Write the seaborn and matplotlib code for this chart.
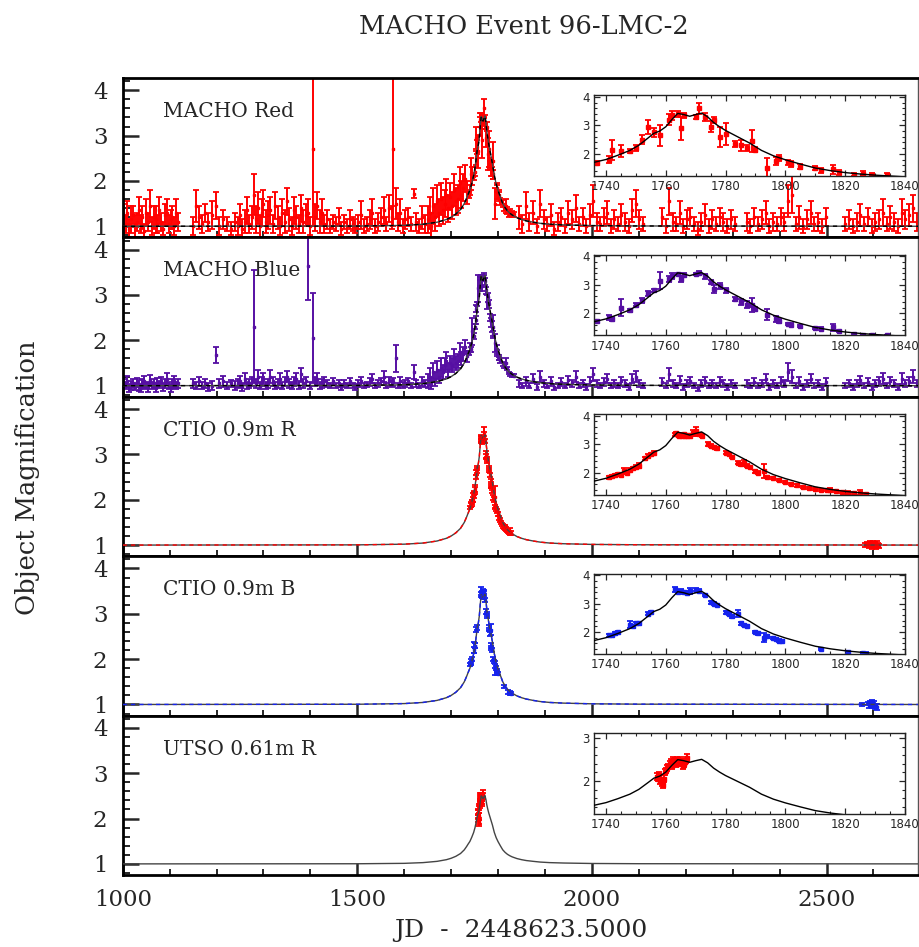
import matplotlib
matplotlib.use('Agg')
import matplotlib.pyplot as plt
from matplotlib.ticker import MultipleLocator
import seaborn as sns

# ---- data ----
macho_jd = [
    1002, 1006, 1010, 1014, 1018, 1022, 1026, 1030, 1034, 1038, 1042, 1046, 1050, 1054, 1058,
    1062, 1066, 1070, 1074, 1078, 1082, 1086, 1090, 1094, 1098, 1102, 1106, 1110, 1114, 1118,
    1150, 1156, 1162, 1168, 1175, 1182, 1190, 1198, 1206, 1214, 1222, 1230,
    1240, 1245, 1250, 1255, 1260, 1265, 1270, 1275, 1279, 1284, 1288, 1292, 1296, 1300, 1305,
    1310, 1315, 1320, 1325, 1330, 1335, 1340, 1345, 1350, 1355, 1360, 1365, 1370, 1375, 1380,
    1385, 1390, 1395, 1400, 1406, 1410, 1415, 1420, 1425, 1430,
    1436, 1442, 1448, 1454, 1460, 1466, 1472, 1478, 1484, 1490, 1496, 1502, 1508, 1514, 1520,
    1526, 1532, 1538, 1544, 1550, 1556, 1562, 1568, 1573, 1577, 1582, 1587, 1592, 1597, 1602,
    1608, 1614, 1620, 1626, 1632, 1638, 1644,
    1650, 1654, 1658, 1662, 1666, 1670, 1674, 1678, 1682, 1686, 1690, 1694, 1698, 1702, 1706,
    1710, 1714, 1718, 1722, 1726, 1730, 1733,
    1737, 1741, 1742, 1745, 1748, 1750, 1752, 1754, 1756, 1758, 1761, 1762, 1764, 1765, 1766,
    1770, 1771, 1773, 1775, 1776, 1778, 1780, 1783, 1785, 1787, 1789, 1790, 1794, 1797, 1798,
    1801, 1802, 1805, 1810, 1812, 1816, 1818, 1823, 1826, 1829, 1834,
    1845, 1852, 1860, 1867, 1875, 1882, 1890, 1897, 1905, 1912, 1920, 1928, 1935, 1943, 1950,
    1958, 1966, 1973, 1980, 1988, 1995, 2003, 2010, 2018, 2025, 2033, 2040, 2048, 2056, 2063,
    2070, 2078, 2086, 2093, 2100, 2108,
    2150, 2157, 2165, 2172, 2180, 2188, 2195, 2203, 2210, 2218, 2226, 2233, 2241, 2249, 2256,
    2264, 2272, 2280, 2288, 2296, 2304,
    2330, 2338, 2346, 2354, 2362, 2370, 2378, 2386, 2394, 2402, 2410, 2418, 2426, 2434, 2442,
    2450, 2458, 2466, 2474, 2482, 2490, 2498,
    2540, 2548, 2556, 2564, 2572, 2580, 2588, 2596, 2604, 2612, 2620, 2628, 2636, 2644, 2652,
    2660, 2668, 2676, 2684, 2692,
]

red_mag = [
    1.2, 1.05, 1.3, 0.95, 1.15, 1.25, 1.0, 1.1, 1.35, 1.05, 1.2, 0.9, 1.3, 1.1, 1.45,
    1.0, 1.2, 1.15, 1.05, 1.35, 1.1, 0.95, 1.25, 1.3, 1.05, 1.15, 1.2, 1.0, 1.3, 1.1,
    1.0, 1.45, 1.2, 1.05, 1.3, 1.1, 1.25, 1.45, 1.0, 1.15, 1.05, 0.95,
    1.1, 1.0, 1.25, 0.95, 1.1, 1.35, 1.05, 1.2, 1.7, 1.15, 1.4, 1.0, 1.3, 1.5, 1.1,
    1.25, 1.35, 1.05, 1.45, 1.2, 1.0, 1.3, 1.1, 1.55, 1.15, 1.0, 1.35, 1.2, 1.05, 1.4,
    1.1, 1.25, 1.3, 1.0, 2.7, 1.2, 1.45, 1.1, 1.3, 1.05,
    1.15, 1.0, 1.1, 1.05, 1.2, 0.95, 1.1, 1.0, 1.15, 1.05, 1.0, 1.1, 1.25, 1.0, 1.05,
    1.15, 1.3, 1.0, 1.1, 1.2, 1.35, 1.05, 1.4, 1.2, 2.7, 1.5, 1.1, 1.3, 1.0, 1.15,
    1.2, 1.05, 1.72, 1.1, 1.0, 1.2, 1.05,
    1.15, 1.3, 1.0, 1.45, 1.2, 1.55, 1.3, 1.6, 1.35, 1.5, 1.7, 1.4, 1.65, 1.45, 1.8,
    1.55, 1.6, 1.95, 1.7, 1.85, 2.05, 1.75,
    1.68, 1.8, 2.15, 2.1, 2.1, 2.2, 2.5, 2.95, 2.75, 2.65, 3.2, 3.35, 3.4, 2.9, 3.35,
    3.3, 3.6, 3.3, 2.95, 3.2, 2.6, 2.7, 2.35, 2.3, 2.2, 2.45, 2.15, 1.5, 1.75, 1.85,
    1.7, 1.65, 1.55, 1.5, 1.42, 1.45, 1.35, 1.27, 1.3, 1.27, 1.26,
    1.2, 1.05, 1.45, 1.1, 1.3, 1.0, 1.5, 1.15, 1.05, 1.25, 0.95, 1.1, 1.2, 1.0, 1.3,
    1.15, 1.4, 1.05, 1.2, 1.0, 1.25, 1.55, 1.1, 1.05, 1.2, 1.3, 1.0, 1.15, 1.05, 1.25,
    1.1, 1.0, 1.35, 1.5, 1.15, 1.05,
    1.2, 1.0, 1.55, 1.1, 1.05, 1.3, 1.0, 1.15, 1.2, 1.05, 0.95, 1.1, 1.25, 1.0, 1.15,
    1.05, 1.2, 1.1, 1.0, 1.15, 1.05,
    1.1, 1.0, 1.2, 1.05, 1.15, 1.3, 1.0, 1.1, 1.05, 1.2, 1.1, 1.55, 1.7, 1.05, 1.2,
    1.0, 1.15, 1.3, 1.05, 1.1, 1.0, 1.2,
    1.05, 1.15, 1.0, 1.1, 1.25, 1.05, 1.2, 1.0, 1.1, 1.15, 1.3, 1.05, 1.2, 1.1, 1.0,
    1.3, 1.15, 1.25, 1.4, 1.1,
]

red_err = [
    0.3, 0.2, 0.25, 0.2, 0.3, 0.2, 0.25, 0.2, 0.3, 0.2, 0.25, 0.15, 0.3, 0.2, 0.35,
    0.2, 0.25, 0.3, 0.2, 0.3, 0.2, 0.15, 0.25, 0.3, 0.2, 0.2, 0.25, 0.2, 0.3, 0.2,
    0.2, 0.35, 0.25, 0.2, 0.2, 0.2, 0.3, 0.3, 0.2, 0.2, 0.15, 0.15,
    0.2, 0.2, 0.25, 0.2, 0.25, 0.3, 0.2, 0.25, 0.45, 0.3, 0.35, 0.25, 0.3, 0.3, 0.25,
    0.3, 0.3, 0.2, 0.3, 0.25, 0.2, 0.3, 0.25, 0.3, 0.25, 0.2, 0.3, 0.25, 0.2, 0.3,
    0.25, 0.25, 0.3, 0.2, 1.7, 0.3, 0.3, 0.25, 0.3, 0.2,
    0.2, 0.15, 0.15, 0.15, 0.2, 0.15, 0.15, 0.15, 0.2, 0.15, 0.15, 0.15, 0.3, 0.15, 0.15,
    0.2, 0.3, 0.15, 0.2, 0.2, 0.3, 0.15, 0.3, 0.25, 1.7, 0.35, 0.2, 0.3, 0.15, 0.2,
    0.2, 0.15, 0.1, 0.2, 0.15, 0.25, 0.2,
    0.3, 0.35, 0.3, 0.4, 0.3, 0.35, 0.3, 0.35, 0.3, 0.3, 0.35, 0.3, 0.3, 0.3, 0.35,
    0.3, 0.3, 0.35, 0.3, 0.3, 0.3, 0.25,
    0.05, 0.12, 0.35, 0.2, 0.07, 0.1, 0.15, 0.25, 0.15, 0.37, 0.2, 0.15, 0.1, 0.4, 0.1,
    0.08, 0.2, 0.15, 0.2, 0.1, 0.35, 0.4, 0.1, 0.2, 0.1, 0.4, 0.1, 0.35, 0.15, 0.1,
    0.1, 0.1, 0.08, 0.08, 0.08, 0.15, 0.08, 0.06, 0.08, 0.06, 0.05,
    0.25, 0.2, 0.3, 0.2, 0.25, 0.15, 0.3, 0.2, 0.15, 0.25, 0.15, 0.2, 0.2, 0.15, 0.25,
    0.2, 0.3, 0.15, 0.2, 0.15, 0.25, 0.35, 0.2, 0.15, 0.2, 0.25, 0.15, 0.2, 0.15, 0.25,
    0.2, 0.15, 0.25, 0.3, 0.2, 0.15,
    0.2, 0.15, 0.3, 0.2, 0.15, 0.25, 0.15, 0.2, 0.2, 0.15, 0.15, 0.2, 0.25, 0.15, 0.2,
    0.15, 0.2, 0.2, 0.15, 0.2, 0.15,
    0.2, 0.15, 0.2, 0.15, 0.2, 0.25, 0.15, 0.2, 0.15, 0.2, 0.2, 0.35, 0.4, 0.15, 0.25,
    0.15, 0.2, 0.25, 0.15, 0.2, 0.15, 0.2,
    0.15, 0.2, 0.15, 0.2, 0.25, 0.15, 0.2, 0.15, 0.2, 0.2, 0.3, 0.15, 0.25, 0.2, 0.15,
    0.3, 0.2, 0.25, 0.3, 0.2,
]

blue_mag = [
    1.05, 1.0, 1.1, 0.95, 1.0, 1.05, 0.98, 1.08, 1.0, 0.95, 1.05, 1.1, 1.0, 0.97, 1.12,
    1.0, 1.05, 0.95, 1.08, 1.02, 1.1, 0.97, 1.05, 1.15, 1.0, 0.95, 1.05, 1.1, 1.0, 1.05,
    1.05, 1.0, 1.1, 1.0, 1.05, 0.97, 1.0, 1.68, 1.05, 1.1, 1.0, 1.05,
    1.0, 1.05, 1.1, 0.97, 1.15, 1.0, 1.05, 1.1, 2.3, 1.05, 1.2, 1.0, 1.1, 1.15, 1.0,
    1.05, 1.2, 1.1, 1.0, 1.05, 1.15, 1.0, 1.1, 1.2, 1.05, 1.0, 1.1, 1.15, 1.0, 1.25,
    1.05, 1.1, 3.65, 1.0, 2.05, 1.1, 1.15, 1.0, 1.05, 1.1,
    1.05, 1.0, 1.1, 1.0, 1.05, 0.97, 1.05, 1.0, 1.1, 1.0, 0.97, 1.05, 1.1, 1.0, 1.03,
    1.08, 1.15, 1.0, 1.05, 1.1, 1.2, 1.0, 1.1, 1.05, 1.08, 1.6, 1.0, 1.1, 1.02, 1.05,
    1.1, 1.0, 1.3, 1.05, 1.0, 1.1, 1.05,
    1.1, 1.2, 1.05, 1.3, 1.15, 1.35, 1.2, 1.4, 1.3, 1.45, 1.55, 1.35, 1.5, 1.45, 1.6,
    1.5, 1.55, 1.75, 1.6, 1.7, 1.85, 1.65,
    1.72, 1.85, 1.8, 2.2, 2.1, 2.3, 2.45, 2.7, 2.8, 3.15, 3.2, 3.3, 3.38, 3.2, 3.35,
    3.38, 3.42, 3.3, 3.1, 2.85, 2.95, 2.8, 2.5, 2.4, 2.3, 2.3, 2.15, 1.95, 1.8, 1.72,
    1.62, 1.6, 1.55, 1.48, 1.45, 1.5, 1.38, 1.28, 1.25, 1.23, 1.22,
    1.05, 1.0, 1.1, 1.0, 1.15, 0.97, 1.2, 1.05, 1.0, 1.1, 0.97, 1.0, 1.08, 1.0, 1.12,
    1.05, 1.2, 1.0, 1.05, 0.97, 1.1, 1.25, 1.05, 1.0, 1.08, 1.15, 1.0, 1.05, 1.0, 1.1,
    1.05, 0.97, 1.15, 1.2, 1.05, 1.0,
    1.08, 1.0, 1.25, 1.05, 1.0, 1.12, 0.97, 1.05, 1.1, 1.0, 0.95, 1.05, 1.1, 1.0, 1.05,
    1.0, 1.1, 1.05, 0.97, 1.05, 1.0,
    1.05, 1.0, 1.08, 1.0, 1.05, 1.15, 0.97, 1.05, 1.0, 1.1, 1.05, 1.3, 1.2, 1.0, 1.1,
    0.97, 1.05, 1.15, 1.0, 1.05, 0.97, 1.08,
    1.0, 1.05, 0.97, 1.05, 1.12, 1.0, 1.08, 0.97, 1.05, 1.1, 1.15, 1.0, 1.1, 1.05, 0.97,
    1.15, 1.05, 1.1, 1.2, 1.05,
]

blue_err = [
    0.1, 0.08, 0.12, 0.08, 0.1, 0.1, 0.08, 0.1, 0.12, 0.08, 0.1, 0.12, 0.08, 0.1, 0.12,
    0.08, 0.1, 0.08, 0.1, 0.08, 0.1, 0.08, 0.1, 0.12, 0.08, 0.08, 0.1, 0.12, 0.08, 0.1,
    0.1, 0.08, 0.1, 0.08, 0.1, 0.08, 0.1, 0.17, 0.1, 0.12, 0.08, 0.08,
    0.1, 0.1, 0.12, 0.08, 0.12, 0.08, 0.1, 0.1, 1.25, 0.1, 0.15, 0.08, 0.1, 0.12, 0.08,
    0.1, 0.15, 0.1, 0.08, 0.1, 0.12, 0.08, 0.1, 0.12, 0.1, 0.08, 0.1, 0.12, 0.08, 0.15,
    0.1, 0.1, 0.75, 0.08, 1.0, 0.1, 0.12, 0.08, 0.1, 0.1,
    0.08, 0.06, 0.08, 0.06, 0.08, 0.06, 0.08, 0.06, 0.08, 0.06, 0.06, 0.08, 0.1, 0.06, 0.06,
    0.08, 0.1, 0.06, 0.08, 0.08, 0.12, 0.06, 0.1, 0.08, 0.08, 0.3, 0.06, 0.1, 0.06, 0.08,
    0.08, 0.06, 0.15, 0.08, 0.06, 0.1, 0.08,
    0.15, 0.2, 0.12, 0.2, 0.15, 0.2, 0.15, 0.2, 0.15, 0.15, 0.2, 0.15, 0.15, 0.15, 0.2,
    0.15, 0.15, 0.2, 0.15, 0.15, 0.15, 0.12,
    0.04, 0.1, 0.06, 0.3, 0.06, 0.06, 0.08, 0.08, 0.05, 0.3, 0.12, 0.1, 0.05, 0.12, 0.05,
    0.05, 0.06, 0.08, 0.08, 0.15, 0.1, 0.08, 0.08, 0.1, 0.12, 0.25, 0.06, 0.2, 0.1, 0.06,
    0.05, 0.04, 0.05, 0.05, 0.05, 0.12, 0.04, 0.03, 0.03, 0.03, 0.03,
    0.08, 0.06, 0.1, 0.06, 0.1, 0.06, 0.12, 0.08, 0.06, 0.1, 0.06, 0.06, 0.08, 0.06, 0.1,
    0.08, 0.12, 0.06, 0.08, 0.06, 0.1, 0.15, 0.08, 0.06, 0.08, 0.1, 0.06, 0.08, 0.06, 0.1,
    0.08, 0.06, 0.1, 0.12, 0.08, 0.06,
    0.08, 0.06, 0.15, 0.08, 0.06, 0.1, 0.06, 0.08, 0.1, 0.06, 0.06, 0.08, 0.1, 0.06, 0.08,
    0.06, 0.1, 0.08, 0.06, 0.08, 0.06,
    0.08, 0.06, 0.08, 0.06, 0.08, 0.1, 0.06, 0.08, 0.06, 0.1, 0.08, 0.2, 0.15, 0.06, 0.1,
    0.06, 0.08, 0.1, 0.06, 0.08, 0.06, 0.08,
    0.06, 0.08, 0.06, 0.08, 0.1, 0.06, 0.08, 0.06, 0.08, 0.1, 0.12, 0.06, 0.1, 0.08, 0.06,
    0.12, 0.08, 0.1, 0.15, 0.08,
]

ctio_r_jd = [
    1741, 1742, 1743, 1744, 1745, 1746, 1747, 1748, 1749, 1750, 1751, 1753, 1754, 1755, 1756,
    1763, 1763.5, 1764, 1764.5, 1765, 1765.5, 1766, 1766.5, 1767, 1767.5, 1768, 1769, 1770,
    1771, 1772, 1774, 1775, 1776, 1777, 1780, 1781, 1782, 1784, 1785, 1786, 1787, 1788,
    1790, 1791, 1793, 1794, 1796, 1798, 1800, 1802, 1804, 1806, 1808, 1810, 1812, 1814,
    1815, 1817, 1819, 1821, 1823, 1825, 1827,
    2582, 2586, 2590, 2592, 2594, 2596, 2598, 2600, 2602, 2604, 2606, 2608, 2610, 2612,
]
ctio_r_mag = [
    1.83, 1.88, 1.9, 1.95, 1.93, 2.05, 2.0, 2.1, 2.15, 2.2, 2.25, 2.5, 2.6, 2.65, 2.7,
    3.35, 3.38, 3.33, 3.3, 3.32, 3.3, 3.35, 3.28, 3.3, 3.32, 3.3, 3.4, 3.45,
    3.35, 3.3, 3.0, 2.95, 2.9, 2.85, 2.7, 2.65, 2.55, 2.35, 2.3, 2.35, 2.25, 2.2,
    2.05, 2.0, 2.05, 1.85, 1.8, 1.75, 1.68, 1.6, 1.55, 1.5, 1.45, 1.42, 1.4, 1.38,
    1.4, 1.35, 1.32, 1.3, 1.28, 1.3, 1.26,
    1.0, 1.02, 0.98, 1.03, 1.0, 0.97, 1.02, 1.04, 0.99, 1.01, 0.96, 1.03, 1.0, 0.98,
]
ctio_r_err = [
    0.04, 0.04, 0.05, 0.05, 0.06, 0.1, 0.05, 0.06, 0.05, 0.07, 0.08, 0.05, 0.06, 0.05, 0.05,
    0.06, 0.05, 0.05, 0.04, 0.05, 0.04, 0.05, 0.04, 0.05, 0.05, 0.05, 0.1, 0.15,
    0.06, 0.05, 0.08, 0.05, 0.05, 0.04, 0.05, 0.04, 0.05, 0.05, 0.05, 0.1, 0.04, 0.05,
    0.05, 0.05, 0.25, 0.04, 0.04, 0.04, 0.04, 0.04, 0.04, 0.04, 0.04, 0.04, 0.04, 0.04,
    0.05, 0.04, 0.04, 0.04, 0.04, 0.08, 0.04,
    0.04, 0.05, 0.04, 0.05, 0.04, 0.05, 0.04, 0.06, 0.04, 0.05, 0.04, 0.07, 0.05, 0.04,
]

ctio_b_jd = [
    1741, 1742, 1743, 1744, 1748, 1749, 1750, 1751, 1754, 1755,
    1763, 1764, 1765, 1766, 1767, 1768, 1770, 1771, 1773, 1775,
    1776, 1777, 1780, 1781, 1782, 1784, 1785, 1786, 1787, 1790,
    1791, 1793, 1794, 1796, 1797, 1798, 1799, 1812, 1821, 1826, 1827,
    2575, 2588, 2590, 2592, 2594, 2596, 2598, 2600, 2602, 2604, 2606, 2608,
]
ctio_b_mag = [
    1.88, 1.9, 1.95, 2.0, 2.25, 2.2, 2.3, 2.3, 2.65, 2.7,
    3.5, 3.42, 3.45, 3.4, 3.38, 3.45, 3.48, 3.45, 3.3, 3.05,
    3.0, 2.95, 2.7, 2.65, 2.55, 2.65, 2.3, 2.25, 2.2, 2.0,
    1.95, 1.8, 1.85, 1.8, 1.75, 1.7, 1.68, 1.4, 1.28, 1.25, 1.24,
    1.0, 1.02, 0.98, 1.03, 1.0, 0.97, 1.04, 0.99, 1.01, 0.96, 0.98, 0.94,
]
ctio_b_err = [
    0.04, 0.04, 0.05, 0.05, 0.12, 0.06, 0.05, 0.05, 0.06, 0.05,
    0.08, 0.05, 0.05, 0.05, 0.05, 0.1, 0.05, 0.05, 0.04, 0.05,
    0.05, 0.04, 0.05, 0.04, 0.04, 0.12, 0.05, 0.04, 0.04, 0.05,
    0.04, 0.15, 0.05, 0.04, 0.04, 0.04, 0.04, 0.04, 0.04, 0.04, 0.04,
    0.03, 0.04, 0.05, 0.04, 0.05, 0.04, 0.05, 0.04, 0.06, 0.05, 0.04, 0.06,
]

utso_jd = [
    1757.0, 1757.4, 1757.8, 1758.2, 1758.6, 1759.0, 1759.3, 1759.7, 1760.1, 1760.5,
    1760.9, 1761.3, 1761.7, 1762.1, 1762.5, 1762.9, 1763.3, 1763.7, 1764.1, 1764.5,
    1764.9, 1765.3, 1765.7, 1766.1, 1766.5, 1766.9, 1767.2,
]
utso_mag = [
    2.1, 2.05, 2.15, 2.0, 1.95, 1.9, 2.05, 2.2, 2.25, 2.3,
    2.35, 2.4, 2.45, 2.35, 2.5, 2.45, 2.4, 2.5, 2.45, 2.4,
    2.5, 2.45, 2.35, 2.4, 2.45, 2.5, 2.55,
]
utso_err = [
    0.08, 0.06, 0.07, 0.08, 0.07, 0.06, 0.08, 0.07, 0.06, 0.07,
    0.06, 0.07, 0.06, 0.08, 0.07, 0.06, 0.07, 0.06, 0.07, 0.06,
    0.07, 0.06, 0.08, 0.07, 0.06, 0.07, 0.08,
]

# binary-lens model curve, sampled off the figure
model_jd = [
    1000, 1500, 1600, 1640, 1670, 1690, 1700, 1710, 1720, 1728, 1733, 1736, 1740, 1744,
    1748, 1751, 1754, 1756, 1758, 1760, 1762, 1764, 1766, 1768, 1770, 1772, 1774, 1776,
    1778, 1780, 1784, 1788, 1792, 1796, 1800, 1805, 1810, 1815, 1820, 1825, 1830, 1840,
    1850, 1860, 1875, 1890, 1910, 1940, 2000, 2100, 2700,
]
model_mag = [
    1.0, 1.005, 1.02, 1.045, 1.09, 1.15, 1.2, 1.27, 1.37, 1.5, 1.62, 1.7, 1.8, 1.95,
    2.12, 2.3, 2.55, 2.72, 2.8, 2.95, 3.2, 3.42, 3.38, 3.32, 3.38, 3.43, 3.3, 3.1,
    2.95, 2.82, 2.6, 2.38, 2.12, 1.93, 1.79, 1.64, 1.5, 1.41, 1.34, 1.29, 1.25, 1.19,
    1.15, 1.12, 1.09, 1.065, 1.045, 1.03, 1.015, 1.007, 1.0,
]
utso_model_mag = [
    1.0, 1.003, 1.012, 1.028, 1.056, 1.093, 1.124, 1.167, 1.229, 1.31, 1.384, 1.434, 1.496, 1.589,
    1.694, 1.806, 1.961, 2.066, 2.116, 2.209, 2.364, 2.5, 2.476, 2.438, 2.476, 2.507, 2.426, 2.302,
    2.209, 2.128, 1.992, 1.856, 1.694, 1.577, 1.49, 1.397, 1.31, 1.254, 1.211, 1.18, 1.155, 1.118,
    1.093, 1.074, 1.056, 1.04, 1.028, 1.019, 1.009, 1.004, 1.0,
]

panel_labels = ['MACHO Red', 'MACHO Blue', 'CTIO 0.9m R', 'CTIO 0.9m B', 'UTSO 0.61m R']
main_xticks = [1000, 1500, 2000, 2500]
inset_xticks = [1740, 1760, 1780, 1800, 1820, 1840]

RED = '#ff0000'
PURPLE = '#560fa3'
BLUE = '#1522ee'

panels = [
    (macho_jd, red_mag, red_err, RED, model_mag, 'black'),
    (macho_jd, blue_mag, blue_err, PURPLE, model_mag, 'black'),
    (ctio_r_jd, ctio_r_mag, ctio_r_err, RED, model_mag, RED),
    (ctio_b_jd, ctio_b_mag, ctio_b_err, BLUE, model_mag, BLUE),
    (utso_jd, utso_mag, utso_err, RED, utso_model_mag, None),
]

sns.set_style('ticks')
plt.rcParams['font.family'] = ['DejaVu Serif']

W, H = 919, 947
fig = plt.figure(figsize=(W / 100, H / 100), dpi=100)

x0, x1 = 122.7, 918.0
top, bottom = 78.0, 875.0
ph = (bottom - top) / 5

for i, (jd, mag, err, col, mod, dash_col) in enumerate(panels):
    ptop = top + i * ph
    ax = fig.add_axes([x0 / W, 1 - (ptop + ph) / H, (x1 - x0) / W, ph / H])
    ax.errorbar(jd, mag, yerr=err, fmt='s', ms=1.6, color=col, ecolor=col,
                elinewidth=1.4, capsize=1.9, capthick=1.3, zorder=2)
    sns.lineplot(x=model_jd, y=mod, ax=ax, color='#444444', lw=1.0,
                 estimator=None, sort=False, legend=False, zorder=3)
    if dash_col is not None:
        ax.plot(model_jd, mod, color=dash_col, lw=1.0, ls=(0, (3, 3)), zorder=4)
    ax.set_xlim(1000, 2695)
    ax.set_ylim(0.755, 4.27)
    ax.set_xlabel('')
    ax.set_ylabel('')
    ax.xaxis.set_major_locator(MultipleLocator(500))
    ax.xaxis.set_minor_locator(MultipleLocator(100))
    ax.yaxis.set_major_locator(MultipleLocator(1))
    ax.yaxis.set_minor_locator(MultipleLocator(0.2))
    ax.tick_params(axis='x', which='major', direction='in', length=9, width=1.8,
                   top=False, bottom=True, pad=10, labelsize=16.5)
    ax.tick_params(axis='x', which='minor', direction='in', length=4.5, width=1.4,
                   top=False, bottom=True)
    ax.tick_params(axis='y', which='major', direction='in', length=11.5, width=1.8,
                   left=True, right=False, pad=11, labelsize=16.5)
    ax.tick_params(axis='y', which='minor', direction='in', length=5, width=1.4,
                   left=True, right=False)
    ax.set_yticks([1, 2, 3, 4])
    ax.set_yticklabels(['1', '2', '3', '4'])
    if i == 4:
        ax.set_xticks(main_xticks)
        ax.set_xticklabels([str(t) for t in main_xticks])
    else:
        ax.tick_params(axis='x', labelbottom=False)
    for side in ['left', 'bottom', 'top']:
        ax.spines[side].set_linewidth(2.0)
        ax.spines[side].set_color('black')
    ax.spines['right'].set_linewidth(1.0)
    ax.spines['right'].set_color('#555555')
    ax.text((163 - x0) / (x1 - x0), 1 - 33.5 / ph, panel_labels[i],
            transform=ax.transAxes, ha='left', va='center', fontsize=14.5)

    # zoomed inset around the peak
    itop = ptop + 17.5
    iax = fig.add_axes([594 / W, 1 - (itop + 80.5) / H, (905 - 594) / W, 80.5 / H])
    iax.errorbar(jd, mag, yerr=err, fmt='s', ms=2.2, color=col, ecolor=col,
                 elinewidth=1.4, capsize=1.9, capthick=1.3, zorder=2)
    sns.lineplot(x=model_jd, y=mod, ax=iax, color='black', lw=1.0,
                 estimator=None, sort=False, legend=False, zorder=3)
    iax.set_xlim(1736, 1840)
    if i == 4:
        iax.set_ylim(1.24, 3.12)
        iax.set_yticks([2, 3])
    else:
        iax.set_ylim(1.22, 4.05)
        iax.set_yticks([2, 3, 4])
    iax.set_xticks(inset_xticks)
    iax.set_xlabel('')
    iax.set_ylabel('')
    iax.xaxis.set_minor_locator(MultipleLocator(5))
    iax.yaxis.set_minor_locator(MultipleLocator(0.2))
    iax.tick_params(which='major', direction='in', length=4, width=0.9,
                    top=True, right=True, labelsize=8.5, pad=3)
    iax.tick_params(which='minor', direction='in', length=2.2, width=0.8,
                    top=True, right=True)
    for lab in iax.get_xticklabels() + iax.get_yticklabels():
        lab.set_family('DejaVu Sans')
    for sp in iax.spines.values():
        sp.set_linewidth(1.0)
        sp.set_color('#222222')

fig.text(523.5 / W, 1 - 26 / H, 'MACHO Event 96-LMC-2', ha='center', va='center',
         fontsize=18.5)
fig.text(520.5 / W, 1 - 930 / H, 'JD  -  2448623.5000', ha='center', va='center',
         fontsize=18)
fig.text(28 / W, 1 - 478 / H, 'Object Magnification', rotation=90, ha='center',
         va='center', fontsize=18.5)

fig.savefig('out.png', dpi=100)
